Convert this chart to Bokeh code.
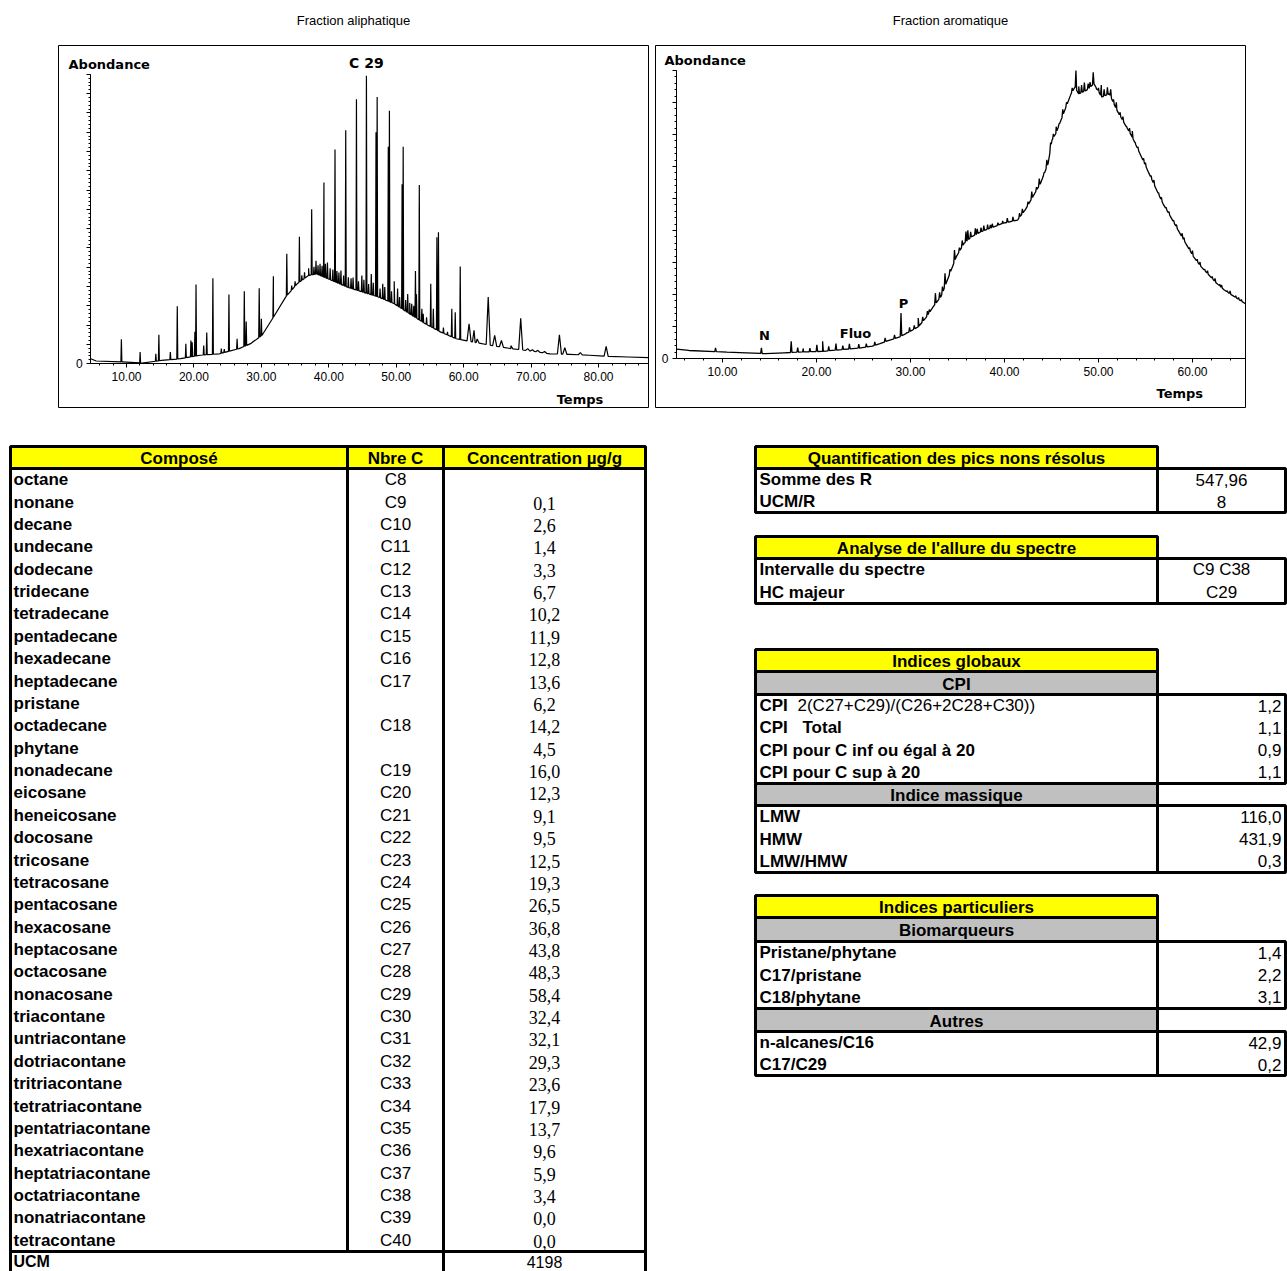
import numpy as np
from bokeh.plotting import figure
from bokeh.layouts import column, row
from bokeh.models import Range1d, FixedTicker, CustomJSTickFormatter, PrintfTickFormatter, Label
from bokeh.core.properties import value
from bokeh.embed import file_html
from bokeh.resources import INLINE

# ======================= DATA =======================
ali_title = "Fraction aliphatique"
aro_title = "Fraction aromatique"

# Aliphatic fraction: unresolved hump (UCM) envelope, time (min) vs abundance (% of axis)
ali_ucm_t = [4.7, 5.5, 9.4, 12.3, 15.2, 18.0, 20.9, 23.8, 26.7, 28.4, 30.1, 31.8, 33.6, 35.3, 37.0, 38.2,
             39.3, 41.0, 42.8, 45.1, 47.4, 49.7, 52.0, 54.3, 56.6, 58.9, 61.3, 64.1, 67.0, 69.9, 72.8,
             75.7, 78.6, 81.5, 84.4, 87.4]
ali_ucm_v = [1.7, 0.9, 0.6, 0.2, 1.1, 1.7, 2.9, 3.4, 5.2, 6.9, 9.8, 16.1, 23.0, 27.6, 30.5, 31.0,
             29.9, 28.2, 26.4, 24.7, 23.0, 20.7, 17.2, 13.8, 10.9, 8.6, 7.5, 6.3, 5.2, 4.4, 3.4,
             3.2, 2.9, 2.5, 2.3, 2.1]
# Aliphatic fraction: resolved peaks (time, apex abundance)
ali_peak_t = [9.24, 12.02, 14.35, 14.80, 16.5, 17.53, 18.8, 19.55, 19.74, 20.14, 20.31, 21.45, 21.90,
              22.81, 24.06, 24.5, 25.19, 26.4, 27.47, 27.75, 28.7, 29.0, 29.68, 30.0, 31.78, 33.77,
              34.5, 35.0, 35.64, 36.0, 36.4, 37.0, 37.46, 37.8, 38.1, 38.4, 38.7, 39.0, 39.28, 39.5,
              39.8, 40.2, 40.6, 40.92, 41.2, 41.5, 41.8, 42.2, 42.51, 42.9, 43.3, 43.6, 44.10, 44.4,
              44.9, 45.2, 45.58, 45.9, 46.3, 46.6, 47.0, 47.17, 47.6, 48.0, 48.3, 48.82, 48.99, 49.3,
              49.7, 50.2, 50.5, 50.87, 51.03, 51.4, 51.7, 52.0, 52.3, 52.6, 52.85, 53.0, 53.42, 53.8,
              54.0, 54.5, 55.12, 55.5, 56.03, 56.26, 57.0, 57.6, 58.24, 58.75, 59.49, 60.80, 61.54,
              62.0, 63.64, 64.6, 65.6, 67.0, 68.46, 69.5, 70.2, 71.0, 72.0, 74.20, 75.0, 77.3, 81.13]
ali_peak_v = [8.4, 4.0, 3.4, 10.0, 4.0, 19.8, 6.9, 8.0, 7.4, 11.0, 27.4, 6.3, 10.8,
              29.5, 5.2, 5.0, 23.9, 8.6, 25.0, 14.6, 7.5, 8.0, 26.1, 15.5, 30.2, 38.0,
              27.0, 28.5, 43.9, 30.5, 31.6, 33.0, 53.4, 33.5, 35.6, 34.0, 34.5, 33.8, 62.6, 34.5,
              35.0, 33.0, 32.5, 74.0, 32.0, 31.5, 32.2, 30.5, 80.7, 29.9, 29.5, 29.8, 91.4, 28.5,
              30.5, 29.0, 99.5, 27.5, 31.0, 28.0, 80.0, 92.2, 26.0, 27.6, 26.5, 75.0, 87.4, 25.0,
              28.5, 26.0, 23.0, 62.0, 75.0, 22.0, 24.1, 21.0, 20.7, 20.0, 32.0, 24.0, 61.8, 19.0,
              17.2, 16.0, 27.6, 19.0, 43.7, 45.4, 12.5, 11.0, 19.0, 17.8, 33.6, 13.8, 11.5,
              8.5, 23.0, 9.8, 8.0, 6.2, 15.7, 5.2, 4.8, 4.6, 4.2, 10.0, 5.5, 3.8, 6.0]

# Aromatic fraction: continuous envelope (time, abundance)
aro_t = [5.11, 6.42, 10.48, 12.52, 14.55, 16.58, 18.62, 20.65, 22.68, 24.72, 25.94, 26.75, 27.97,
         28.78, 30.0, 30.82, 31.63, 32.44, 33.26, 34.07, 34.88, 35.7, 36.51, 37.32, 38.14, 38.95,
         39.76, 40.58, 41.39, 42.2, 43.02, 43.83, 44.64, 45.05, 45.46, 46.27, 47.08, 47.49, 47.9,
         48.71, 49.52, 50.34, 51.15, 51.96, 52.78, 53.59, 54.4, 55.22, 56.03, 56.84, 57.66, 58.47,
         59.28, 60.1, 60.91, 61.72, 62.54, 63.35, 64.16, 65.64]
aro_v = [3.3, 2.8, 2.2, 2.0, 1.7, 2.0, 2.3, 2.5, 3.1, 3.7, 4.3, 5.2, 6.6,
         7.4, 9.5, 11.0, 14.1, 18.1, 21.6, 28.5, 35.4, 40.0, 42.3, 43.7, 44.9, 45.8,
         46.9, 47.5, 48.1, 51.6, 56.2, 60.8, 67.7, 75.8, 78.1, 85.0, 91.9, 94.2, 91.9,
         93.1, 95.4, 90.8, 91.9, 86.2, 81.5, 76.9, 71.2, 65.4, 59.6, 53.9, 49.3, 44.6,
         40.0, 35.4, 31.9, 29.1, 26.2, 23.9, 22.1, 19.0]
# Aromatic fraction: small resolved spikes / noise (time, apex abundance)
aro_spike_t = [9.26, 14.14, 17.31, 18.0, 18.6, 19.3, 20.04, 20.65, 21.3, 22.07, 22.8, 23.5, 24.5,
               25.3, 26.2, 27.3, 28.3, 28.99, 29.6, 29.9, 30.4, 30.82, 31.3, 31.8, 32.0, 32.65,
               33.1, 33.4, 33.67, 34.2, 34.68, 35.2, 35.5, 35.9, 36.1, 36.4, 36.9, 37.1, 37.5,
               37.8, 38.2, 38.5, 38.7, 39.3, 39.8, 40.3, 40.9, 41.6, 41.9, 42.5, 42.9, 43.4, 43.7,
               44.2, 44.5, 44.9, 45.2, 45.5, 45.8, 46.2, 46.6, 47.2, 47.6, 47.9, 48.2, 48.5, 48.9,
               49.1, 49.44, 49.8, 50.0, 50.3, 50.6, 50.95, 51.3, 51.6, 51.9, 52.3, 52.6, 53.0, 53.3,
               53.6, 53.9, 54.2, 54.8, 55.0, 55.6, 55.9, 56.4, 56.7, 57.2, 57.5, 58.0, 58.3, 58.9,
               59.1, 59.7, 60.0, 60.5, 60.8, 61.3, 61.6, 62.1, 62.4, 62.9, 63.1, 63.7, 64.0, 64.6,
               64.9, 65.2]
aro_spike_v = [3.7, 3.7, 6.0, 3.8, 3.5, 3.6, 4.8, 6.0, 4.2, 5.2, 4.5, 5.1, 5.0,
               5.2, 5.8, 7.2, 8.2, 15.8, 9.0, 10.8, 11.5, 14.1, 14.5, 16.5, 17.0, 22.7,
               23.0, 25.0, 29.6, 31.0, 37.7, 38.5, 41.0, 44.1, 44.5, 44.0, 45.2, 45.0, 45.5,
               46.2, 46.5, 46.4, 46.8, 47.2, 47.8, 48.8, 49.2, 50.5, 52.0, 54.5, 58.0, 59.5, 62.5,
               64.5, 69.0, 75.0, 78.0, 80.5, 81.5, 86.5, 89.0, 94.0, 100.0, 94.5, 95.0, 95.8, 95.5,
               96.0, 99.4, 93.5, 94.0, 95.0, 93.5, 94.2, 93.5, 90.0, 89.0, 85.5, 84.0, 80.5, 80.0,
               79.0, 75.0, 73.5, 69.5, 68.0, 63.5, 62.0, 57.5, 56.0, 52.5, 51.0, 48.0, 46.5, 43.5,
               42.0, 38.5, 37.5, 34.5, 33.5, 31.0, 30.5, 28.5, 27.8, 25.8, 25.5, 23.5, 23.5, 21.8,
               21.2, 20.5]
aro_label_text = ["N", "Fluo", "P"]
aro_label_t = [14.47, 24.15, 29.26]
aro_label_v = [8.0, 8.7, 19.1]

ali_xticks = [10, 20, 30, 40, 50, 60, 70, 80]
aro_xticks = [10, 20, 30, 40, 50, 60]

# Table: n-alkanes
compounds = ["octane", "nonane", "decane", "undecane", "dodecane", "tridecane", "tetradecane",
             "pentadecane", "hexadecane", "heptadecane", "pristane", "octadecane", "phytane",
             "nonadecane", "eicosane", "heneicosane", "docosane", "tricosane", "tetracosane",
             "pentacosane", "hexacosane", "heptacosane", "octacosane", "nonacosane", "triacontane",
             "untriacontane", "dotriacontane", "tritriacontane", "tetratriacontane",
             "pentatriacontane", "hexatriacontane", "heptatriacontane", "octatriacontane",
             "nonatriacontane", "tetracontane"]
nbre_c = ["C8", "C9", "C10", "C11", "C12", "C13", "C14", "C15", "C16", "C17", "", "C18", "",
          "C19", "C20", "C21", "C22", "C23", "C24", "C25", "C26", "C27", "C28", "C29", "C30",
          "C31", "C32", "C33", "C34", "C35", "C36", "C37", "C38", "C39", "C40"]
concentration = [None, 0.1, 2.6, 1.4, 3.3, 6.7, 10.2, 11.9, 12.8, 13.6, 6.2, 14.2, 4.5, 16.0,
                 12.3, 9.1, 9.5, 12.5, 19.3, 26.5, 36.8, 43.8, 48.3, 58.4, 32.4, 32.1, 29.3,
                 23.6, 17.9, 13.7, 9.6, 5.9, 3.4, 0.0, 0.0]
ucm_value = 4198
table_headers = ["Composé", "Nbre C", "Concentration µg/g"]

quant_title = "Quantification des pics nons résolus"
quant_labels = ["Somme des R", "UCM/R"]
quant_values = ["547,96", "8"]
allure_title = "Analyse de l'allure du spectre"
allure_labels = ["Intervalle du spectre", "HC majeur"]
allure_values = ["C9 C38", "C29"]
glob_title = "Indices globaux"
cpi_title = "CPI"
cpi_labels = ["CPI", "CPI", "CPI pour C inf ou égal à 20", "CPI pour C sup à 20"]
cpi_formula = "2(C27+C29)/(C26+2C28+C30))"
cpi_total = "Total"
cpi_values = [1.2, 1.1, 0.9, 1.1]
mass_title = "Indice massique"
mass_labels = ["LMW", "HMW", "LMW/HMW"]
mass_values = [116.0, 431.9, 0.3]
part_title = "Indices particuliers"
bio_title = "Biomarqueurs"
bio_labels = ["Pristane/phytane", "C17/pristane", "C18/phytane"]
bio_values = [1.4, 2.2, 3.1]
autres_title = "Autres"
autres_labels = ["n-alcanes/C16", "C17/C29"]
autres_values = [42.9, 0.2]

# ======================= HELPERS =======================
def build_trace(bt, bv, pt, pv, narrow, wide, split):
    bt = np.asarray(bt, float)
    bv = np.asarray(bv, float)
    xs, ys = list(bt), list(bv)
    for t, h in zip(pt, pv):
        w = narrow if t < split else wide
        xs += [t - w, t, t + w]
        ys += [float(np.interp(t - w, bt, bv)), h, float(np.interp(t + w, bt, bv))]
    order = np.argsort(np.array(xs), kind="stable")
    return np.array(xs)[order], np.array(ys)[order]


def fr(v, nd=1):
    return ("%.*f" % (nd, v)).replace(".", ",")


TICK_FONT = "Liberation Sans"
LBL_FONT = "DejaVu Sans"
H_TITLE = 44
H_CHART = 376

# ---- titles strip ----
ptit = figure(width=1287, height=H_TITLE, x_range=Range1d(0, 1287), y_range=Range1d(H_TITLE, 0),
              x_axis_type=None, y_axis_type=None, min_border=0, min_border_left=0, min_border_right=0,
              min_border_top=0, min_border_bottom=0, toolbar_location=None, output_backend="svg")
ptit.xgrid.visible = False
ptit.ygrid.visible = False
ptit.outline_line_color = None
LEFT_FRAME = (58, 648)
RIGHT_FRAME = (655, 1245)
ptit.text(x=[sum(LEFT_FRAME) / 2, sum(RIGHT_FRAME) / 2], y=[20, 20], text=[ali_title, aro_title],
          text_font=value(TICK_FONT), text_font_size=value("13px"), text_align="center",
          text_baseline="middle", text_color="black")


def chart(width, xr, yr, mb, yaxis_at, xticks, ymajor, abond_xy, temps_xy):
    p = figure(width=width, height=H_CHART, x_range=Range1d(*xr), y_range=Range1d(*yr),
               min_border_left=mb[0], min_border_right=mb[1], min_border_top=mb[2],
               min_border_bottom=mb[3], toolbar_location=None, output_backend="svg")
    p.xgrid.visible = False
    p.ygrid.visible = False
    p.outline_line_color = "black"
    p.outline_line_width = 1
    p.background_fill_color = "white"
    p.border_fill_color = "white"
    p.title.visible = False
    xa = p.xaxis[0]
    minors = [v for v in np.arange(2, 100, 2) if yaxis_at < v < xr[1]]
    xa.ticker = FixedTicker(ticks=xticks, minor_ticks=minors)
    xa.formatter = PrintfTickFormatter(format="%.2f")
    xa.fixed_location = 0
    xa.bounds = (yaxis_at, xr[1])
    xa.major_label_text_font = TICK_FONT
    xa.major_label_text_font_size = "12px"
    xa.major_label_text_color = "black"
    xa.major_label_standoff = 4
    xa.major_tick_out = 4
    xa.major_tick_in = 0
    xa.minor_tick_out = 2
    xa.minor_tick_in = 0
    xa.axis_line_color = "black"
    xa.major_tick_line_color = "black"
    xa.minor_tick_line_color = "black"
    ya = p.yaxis[0]
    ymaj = [i * ymajor for i in range(int(round(100 / ymajor)) + 1)]
    ymin = [i * ymajor / 5 for i in range(int(round(500 / ymajor)) + 1)]
    ya.ticker = FixedTicker(ticks=ymaj, minor_ticks=ymin)
    ya.formatter = CustomJSTickFormatter(code="return Math.abs(tick) < 1e-9 ? '0' : '';")
    ya.fixed_location = yaxis_at
    ya.bounds = (0, 100)
    ya.major_label_text_font = TICK_FONT
    ya.major_label_text_font_size = "12px"
    ya.major_label_text_color = "black"
    ya.major_label_standoff = 4
    ya.major_tick_out = 4
    ya.major_tick_in = 0
    ya.minor_tick_out = 2
    ya.minor_tick_in = 0
    ya.axis_line_color = "black"
    ya.major_tick_line_color = "black"
    ya.minor_tick_line_color = "black"
    p.add_layout(Label(x=abond_xy[0], y=abond_xy[1], text="Abondance", text_font=LBL_FONT,
                       text_font_size="13px", text_font_style="bold", text_align="left",
                       text_baseline="middle", text_color="black"))
    p.add_layout(Label(x=temps_xy[0], y=temps_xy[1], text="Temps", text_font=LBL_FONT,
                       text_font_size="13px", text_font_style="bold", text_align="left",
                       text_baseline="middle", text_color="black"))
    return p


# ---- left chromatogram ----
pl = chart(652, (-0.085, 87.41), (-15.17, 110.0), (58, 4, 0, 13), 4.7, ali_xticks, 100 / 15,
           (1.4, 103.4), (73.8, -12.4))
ax, ay = build_trace(ali_ucm_t, ali_ucm_v, ali_peak_t, ali_peak_v, 0.07, 0.3, 60)
pl.line(ax, ay, line_color="black", line_width=1.2)
imax = int(np.argmax(ali_peak_v))
pl.add_layout(Label(x=ali_peak_t[imax], y=ali_peak_v[imax] + 4.5, text="C 29", text_font=LBL_FONT,
                    text_font_size="14px", text_font_style="bold", text_align="center",
                    text_baseline="middle", text_color="black"))

# ---- right chromatogram ----
pr = chart(635, (2.872, 65.64), (-17.0, 108.7), (3, 42, 1, 13), 5.11, aro_xticks, 100 / 9,
           (3.83, 103.5), (56.17, -12.2))
rx, ry = build_trace(aro_t, aro_v, aro_spike_t, aro_spike_v, 0.08, 0.08, 100)
pr.line(rx, ry, line_color="black", line_width=1.3)
pr.text(x=aro_label_t, y=aro_label_v, text=aro_label_text, text_font=value(LBL_FONT),
        text_font_size=value("13px"), text_font_style="bold", text_align="center",
        text_baseline="middle", text_color="black")

# ======================= TABLES =======================
TOP = H_TITLE + H_CHART
BOTTOM = 1271
pt = figure(width=1287, height=BOTTOM - TOP, x_range=Range1d(0, 1287), y_range=Range1d(BOTTOM, TOP),
            x_axis_type=None, y_axis_type=None, min_border=0, min_border_left=0, min_border_right=0,
            min_border_top=0, min_border_bottom=0, toolbar_location=None, output_backend="svg")
pt.xgrid.visible = False
pt.ygrid.visible = False
pt.outline_line_color = None

YEL = "#FFFF00"
GRAY = "#C0C0C0"
LW = 3
FONT = "Liberation Sans"
SERIF = "Liberation Serif"
FS = "17px"


def box(l, r, t, b, fill="white"):
    pt.quad(left=[l], right=[r], top=[t], bottom=[b], fill_color=fill, line_color="black", line_width=LW)


def txt(xs, ys, texts, size=FS, style="bold", align="left", font=FONT):
    pt.text(x=xs, y=ys, text=texts, text_font=value(font), text_font_size=value(size),
            text_font_style=style, text_align=align, text_baseline="middle", text_color="black")


# ---- left table ----
L = [10, 347, 443, 645]
HT, HB, BB, UB = 446, 468, 1251, 1278
for i in range(3):
    box(L[i], L[i + 1], HT, HB, YEL)
for i in range(3):
    box(L[i], L[i + 1], HB, BB)
box(L[0], L[2], BB, UB)
box(L[2], L[3], BB, UB)
txt([(L[i] + L[i + 1]) / 2 for i in range(3)], [(HT + HB) / 2 + 1] * 3, table_headers, align="center")
rh = (BB - HB) / len(compounds)
ys = [HB + (i + 0.5) * rh for i in range(len(compounds))]
txt([13] * len(compounds), ys, compounds)
txt([(L[1] + L[2]) / 2] * len(compounds), ys, nbre_c, style="normal", align="center")
conc_txt = ["" if c is None else fr(c) for c in concentration]
txt([(L[2] + L[3]) / 2] * len(compounds), [y + 1 for y in ys], conc_txt, size="18px", style="normal",
    align="center", font=SERIF)
txt([13], [1261], ["UCM"], size="16px")
txt([(L[2] + L[3]) / 2], [1261], [str(ucm_value)], size="16px", style="normal", align="center")

# ---- right tables ----
R0, R1, R2 = 755, 1157, 1285
RC = (R0 + R1) / 2
VC = (R1 + R2) / 2


def data_block(top, bottom, labels, values, center_values):
    box(R0, R2, top, bottom)
    pt.segment(x0=[R1], y0=[top], x1=[R1], y1=[bottom], line_color="black", line_width=LW)
    n = len(labels)
    h = (bottom - top) / n
    yy = [top + (i + 0.5) * h for i in range(n)]
    txt([759] * n, yy, labels)
    if center_values:
        txt([VC] * n, yy, values, style="normal", align="center")
    else:
        txt([R2 - 4] * n, yy, values, style="normal", align="right")
    return yy


def head(top, bottom, title, fill):
    box(R0, R1, top, bottom, fill)
    txt([RC], [(top + bottom) / 2 + 1], [title], align="center")


head(446, 468, quant_title, YEL)
data_block(468, 512, quant_labels, quant_values, True)

head(536, 558, allure_title, YEL)
data_block(558, 603, allure_labels, allure_values, True)

head(649, 671, glob_title, YEL)
head(671, 694, cpi_title, GRAY)
yy = data_block(694, 783, cpi_labels, [fr(v) for v in cpi_values], False)
txt([797], [yy[0]], [cpi_formula], style="normal")
txt([802], [yy[1]], [cpi_total])
head(783, 805, mass_title, GRAY)
data_block(805, 872, mass_labels, [fr(v) for v in mass_values], False)

head(895, 917, part_title, YEL)
head(917, 941, bio_title, GRAY)
data_block(941, 1008, bio_labels, [fr(v) for v in bio_values], False)
head(1008, 1031, autres_title, GRAY)
data_block(1031, 1075, autres_labels, [fr(v) for v in autres_values], False)

layout = column(ptit, row(pl, pr), pt)
open("out.html", "w").write(file_html(layout, INLINE))
